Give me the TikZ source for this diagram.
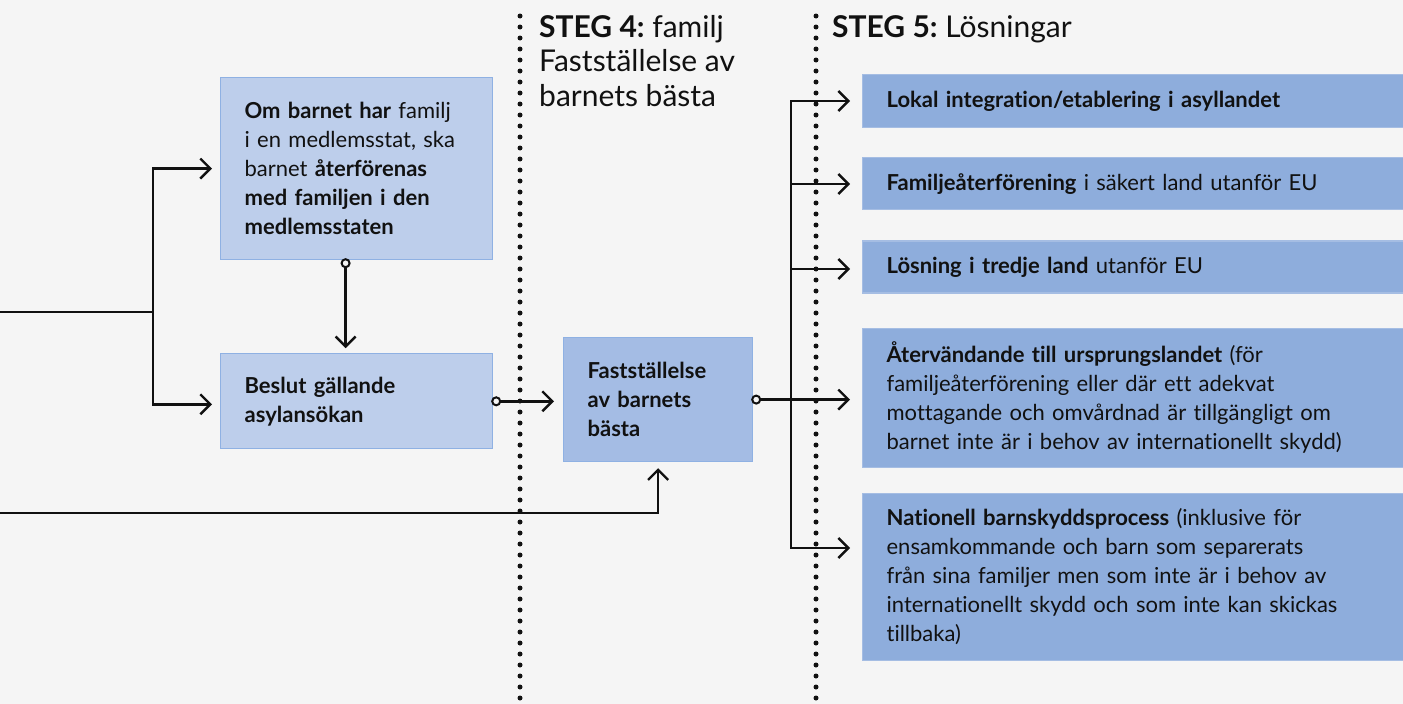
\documentclass[tikz,border=0pt]{standalone}
\usepackage{fontspec}
\setmainfont{Lato}[Ligatures={NoCommon}]
\usetikzlibrary{arrows.meta}
\usetikzlibrary{positioning}
\frenchspacing

\definecolor{bgGray}{HTML}{F5F5F5}
\definecolor{lightBox}{HTML}{BDCEEB}
\definecolor{midBox}{HTML}{A4BCE4}
\definecolor{darkBox}{HTML}{8EADDC}
\definecolor{boxLine}{HTML}{8FB1E3}
\definecolor{inkBlack}{HTML}{111111}

\tikzset{ring/.tip={Circle[fill=bgGray,length=10pt,width=10pt,line width=2pt]}}

\begin{document}
\begin{tikzpicture}[
    x=1pt, y=1pt,
    >={Straight Barb[length=10pt,width=20pt]},
    every node/.style={font=\fontsize{22}{29}\selectfont, text=inkBlack},
    stepbox/.style={rectangle, draw=boxLine, line width=1.2pt, align=left, inner xsep=24pt, inner ysep=0pt},
    leftbox/.style={stepbox, fill=lightBox, text width=224pt},
    bestbox/.style={stepbox, fill=midBox, text width=141pt},
    solution/.style={stepbox, fill=darkBox, draw=darkBox!80!white, text width=493pt},
    heading/.style={align=left, inner sep=0pt, anchor=north west, font=\fontsize{30}{34.5}\selectfont},
    link/.style={line width=2.4pt, draw=inkBlack},
    stepline/.style={line width=5pt, dash pattern=on 0pt off 11pt, line cap=round, draw=inkBlack}
]

% Background
\fill[bgGray] (0,0) rectangle (1403,-704);
\useasboundingbox (0,0) rectangle (1403,-704);

% Step separators
\draw[stepline] (520,-16) -- (520,-710);
\draw[stepline] (816,-16) -- (816,-710);

% Nodes
\node[heading] (steg4) at (539,-15) {\textbf{STEG 4:} familj\\Fastställelse av\\barnets bästa};
\node[heading] (steg5) at (832,-15) {\textbf{STEG 5:} Lösningar};

\node[leftbox, anchor=north west, minimum height=182pt] (family) at (220,-77)
    {\textbf{Om barnet har} familj\\i en medlemsstat, ska\\barnet \textbf{återförenas}\\\textbf{med familjen i den}\\\textbf{medlemsstaten}};
\node[leftbox, below=93pt of family, minimum height=95pt] (asylum)
    {\textbf{Beslut gällande}\\\textbf{asylansökan}};
\node[bestbox, anchor=north west, minimum height=124pt] (best) at (563,-337)
    {\textbf{Fastställelse}\\\textbf{av barnets}\\\textbf{bästa}};

\node[solution, anchor=north west, minimum height=53pt] (local) at (862,-74)
    {\textbf{Lokal integration/etablering i asyllandet}};
\node[solution, below=29pt of local, minimum height=52pt] (reunite)
    {\textbf{Familjeåterförening} i säkert land utanför EU};
\node[solution, below=30pt of reunite, minimum height=52pt] (third)
    {\textbf{Lösning i tredje land} utanför EU};
\node[solution, below=34pt of third, minimum height=139pt] (return)
    {\textbf{Återvändande till ursprungslandet} (för\\familjeåterförening eller där ett adekvat\\mottagande och omvårdnad är tillgängligt om\\barnet inte är i behov av internationellt skydd)};
\node[solution, below=25pt of return, minimum height=167pt] (national)
    {\textbf{Nationell barnskyddsprocess} (inklusive för\\ensamkommande och barn som separerats\\från sina familjer men som inte är i behov av\\internationellt skydd och som inte kan skickas\\tillbaka)};

\coordinate (inTop) at (0,-312);
\coordinate (inLow) at (0,-513);
\coordinate (fork) at (153,-312);
\coordinate (b1) at (791,-101);
\coordinate (b2) at (791,-184);
\coordinate (b3) at (791,-269);
\coordinate (b5) at (791,-548);

% Edges
\draw[link] (inTop) -- (fork);
\draw[link, <->, shorten <=8pt, shorten >=8pt] (family.west) -| (fork) |- ([yshift=-3pt]asylum.west);
\draw[link, ->, shorten >=6pt] (inLow) -| (best.south);
\draw[link, ring->, shorten <=-2pt, shorten >=5pt] ([xshift=-11pt]family.south) -- ([xshift=-11pt]asylum.north);
\draw[link, ring->, shorten <=-2pt, shorten >=9pt] (asylum.east) -- (asylum.east -| best.west);
\draw[link, ring->, shorten <=-2pt, shorten >=12pt] (best.east) -- (best.east -| return.west);
\draw[link, <->, shorten <=12pt, shorten >=12pt] (b1 -| local.west) -- (b1) -- (b5) -- (b5 -| national.west);
\draw[link, ->, shorten >=12pt] (b2) -- (b2 -| reunite.west);
\draw[link, ->, shorten >=12pt] (b3) -- (b3 -| third.west);

\end{tikzpicture}
\end{document}
